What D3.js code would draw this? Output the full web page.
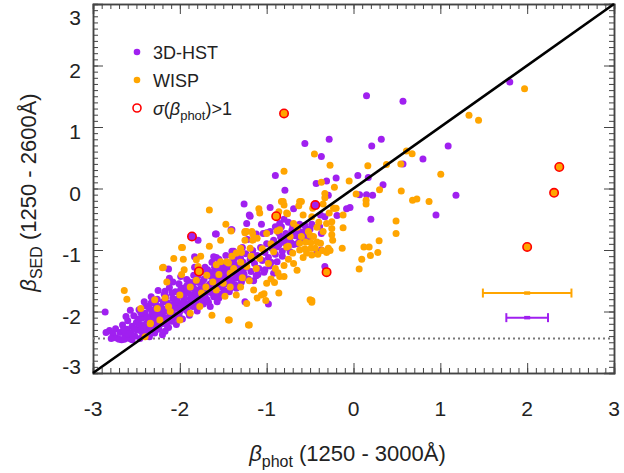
<!DOCTYPE html>
<html>
<head>
<meta charset="utf-8">
<script src="https://cdn.jsdelivr.net/npm/d3@7"></script>
<style>
  body { margin: 0; background: #fff; }
  svg text { font-family: "Liberation Sans", Arial, sans-serif; fill: #222; }
  .axis path, .axis line { stroke: #444; }
</style>
</head>
<body>
<div id="chart"></div>
<script>
// Data (beta_phot, beta_SED)
const hst = [
  [-2.86,-2.01],[0.15,1.51],[0.57,1.42],[1.80,1.73],[-0.56,0.73],[-0.28,0.80],[0.21,0.69],[0.32,0.80],[1.09,0.69],[0.80,0.48],
  [-0.37,0.52],[-0.90,0.21],[-0.79,-0.03],[-0.43,0.08],[-0.31,0.12],[-0.20,0.17],[0.05,0.21],[0.17,0.18],[0.34,0.06],[0.57,0.40],
  [0.07,-0.10],[0.15,-0.10],[0.22,-0.11],[1.18,-0.11],[0.95,-0.43],[0.20,-0.50],[-0.08,-0.33],[-0.04,-0.31],[-0.19,-0.44],[-0.29,-0.11],
  [-1.26,-0.25],[-1.20,-0.43],[-1.06,-0.58],[-0.69,-0.33],[-1.58,-0.74],[-1.41,-0.67],[-1.79,-0.84],[-1.58,-1.12],[-1.83,-1.11],[-2.12,-1.46],
  [-0.98,-1.88],[-1.25,-1.84],[-0.33,-1.27],[-0.96,-0.31],[-1.19,-0.45],[-1.23,-0.57],[-1.40,-0.67],[-1.04,-0.73],[-1.00,-0.72],[-0.96,-0.70],
  [-0.85,-0.57],[-0.83,-0.62],[-0.38,-0.43],[-0.33,-0.46],[-0.48,-0.58],[-0.39,-0.62],[-0.37,-0.73],[-0.42,-1.03],[-0.37,-1.00],[-0.61,-0.84],
  [-0.65,-0.90],[-0.73,-1.03],[-1.40,-1.02],[-1.59,-0.74],[-1.28,-0.96],[-1.22,-0.83],[-1.12,-0.74],[-1.61,-1.11],[-2.13,-1.31],[-1.83,-1.28],
  [-2.17,-1.67],[-0.80,-0.50],[-0.75,-0.55],[-0.70,-0.62],[-0.62,-0.58],[-0.66,-0.70],[-0.58,-0.75],[-0.90,-0.62],[-0.86,-0.72],[-0.78,-0.80],
  [-0.72,-0.88],[-0.55,-0.68],[-0.52,-0.86],[-0.88,-0.95],[-0.82,-1.10],[-0.95,-1.20],[-1.02,-1.32],[-0.92,-1.38],[-1.10,-1.40],[-1.15,-1.50],
  [-2.81,-2.31],[-2.77,-2.37],[-2.74,-2.28],[-2.73,-2.43],[-2.69,-2.34],[-2.67,-2.46],[-2.66,-2.22],[-2.63,-2.39],[-2.61,-2.29],[-2.60,-2.15],
  [-2.58,-2.44],[-2.56,-2.34],[-2.55,-2.24],[-2.53,-2.07],[-2.52,-2.40],[-2.50,-2.18],[-2.49,-2.30],[-2.47,-1.97],[-2.46,-2.44],[-2.44,-2.11],
  [-2.43,-2.25],[-2.42,-2.36],[-2.40,-2.03],[-2.39,-1.91],[-2.38,-2.19],[-2.37,-2.30],[-2.35,-2.41],[-2.34,-2.09],[-2.33,-1.86],[-2.31,-2.24],
  [-2.30,-1.98],[-2.29,-2.35],[-2.27,-2.14],[-2.26,-1.80],[-2.25,-2.05],[-2.24,-2.29],[-2.22,-1.92],[-2.21,-2.20],[-2.20,-2.38],[-2.18,-1.72],
  [-2.17,-2.00],[-2.16,-2.11],[-2.14,-1.86],[-2.13,-2.26],[-2.12,-1.61],[-2.10,-1.95],[-2.09,-2.16],[-2.08,-1.79],[-2.06,-2.06],[-2.05,-1.68],
  [-2.04,-2.21],[-2.02,-1.89],[-2.01,-1.55],[-2.00,-2.00],[-1.98,-1.74],[-1.97,-2.12],[-1.96,-1.62],[-1.94,-1.86],[-1.93,-1.97],[-1.92,-1.48],
  [-1.90,-1.69],[-1.89,-2.06],[-1.88,-1.79],[-1.86,-1.58],[-1.85,-1.92],[-1.84,-1.41],[-1.82,-1.66],[-1.81,-1.84],[-1.80,-1.99],[-1.78,-1.53],
  [-1.77,-1.75],[-1.76,-1.36],[-1.74,-1.62],[-1.73,-1.88],[-1.72,-1.47],[-1.70,-1.70],[-1.69,-1.80],[-1.68,-1.32],[-1.66,-1.56],[-1.65,-1.92],
  [-1.64,-1.43],[-1.62,-1.65],[-1.61,-1.76],[-1.60,-1.28],[-1.58,-1.51],[-1.57,-1.84],[-1.56,-1.38],[-1.54,-1.60],[-1.53,-1.72],[-1.52,-1.24],
  [-1.50,-1.46],[-1.49,-1.66],[-1.48,-1.33],[-1.46,-1.55],[-1.45,-1.20],[-1.44,-1.42],[-1.42,-1.62],[-1.41,-1.29],[-1.40,-1.50],[-1.38,-1.16],
  [-1.37,-1.37],[-1.36,-1.57],[-1.34,-1.25],[-1.33,-1.45],[-1.32,-1.10],[-1.30,-1.33],[-1.29,-1.52],[-1.27,-1.20],[-1.26,-1.40],[-1.24,-1.06],
  [-1.23,-1.28],[-1.21,-1.47],[-1.19,-1.15],[-1.18,-1.35],[-1.16,-1.01],[-1.14,-1.22],[-1.12,-1.42],[-1.11,-1.09],[-1.09,-1.30],[-1.07,-0.96],
  [-1.05,-1.17],[-1.03,-1.36],[-1.02,-1.04],[-1.00,-0.90],[-0.98,-1.12],[-0.96,-1.26],[-0.94,-0.97],[-0.92,-0.84],[-0.90,-1.07],[-0.88,-1.19],
  [-0.86,-0.92],[-0.84,-0.79],[-0.82,-1.02],[-0.80,-0.88],[-0.78,-0.73],[-0.76,-0.96],[-0.74,-0.83],[-0.71,-0.68],[-0.69,-0.91],[-0.67,-0.77],
  [-0.64,-0.64],[-0.62,-0.85],[-0.59,-0.71],[-0.56,-0.60],[-0.53,-0.80],[-0.50,-0.66],
  [-2.36,-2.14],[-2.32,-2.02],[-2.28,-2.25],[-2.23,-2.12],[-2.19,-1.96],[-2.15,-2.22],[-2.11,-2.04],[-2.07,-1.88],[-2.03,-2.10],[-1.99,-1.92],
  [-1.95,-1.78],[-1.91,-2.00],[-1.87,-1.86],[-1.83,-1.72],[-1.79,-1.91],[-1.75,-1.80],[-1.71,-1.60],[-1.67,-1.85],[-1.63,-1.70],[-1.59,-1.56],
  [-1.55,-1.78],[-1.51,-1.58],[-1.47,-1.44],[-1.43,-1.68],[-1.39,-1.40],[-1.35,-1.62],[-1.31,-1.42],[-1.28,-1.28],[-2.41,-1.84],[-2.33,-1.76],
  [-2.25,-1.66],[-2.16,-1.76],[-2.08,-1.52],[-1.99,-1.43],[-1.92,-1.58],[-1.83,-1.52],[-1.71,-1.28],[-1.63,-1.20],[-1.55,-1.15],[-1.47,-1.09],
  [-1.38,-1.02],[-2.57,-1.98],[-2.48,-2.12],[-2.62,-2.08],
  [-2.52,-2.28],[-2.47,-2.20],[-2.44,-2.33],[-2.41,-2.22],[-2.38,-2.10],[-2.35,-2.27],[-2.31,-2.16],[-2.29,-2.06],[-2.27,-1.92],[-2.24,-2.17],
  [-2.21,-2.04],[-2.19,-1.84],[-2.17,-2.32],[-2.14,-1.98],[-2.11,-2.12],[-2.09,-1.70],[-2.06,-1.95],[-2.03,-1.80],[-2.01,-2.06],[-1.99,-1.64],
  [-1.97,-1.86],[-1.94,-1.70],[-1.91,-1.90],[-1.89,-1.52],[-1.87,-1.74],[-1.84,-1.62],[-1.81,-1.78],[-1.79,-1.42],[-1.77,-1.64],[-1.74,-1.52],
  [-1.72,-1.72],[-1.69,-1.38],[-1.67,-1.62],[-1.64,-1.54],[-1.62,-1.36],[-1.59,-1.68],[-1.57,-1.44],[-1.54,-1.30],[-1.52,-1.52],[-1.49,-1.38],
  [-1.46,-1.26],[-1.44,-1.50],[-1.41,-1.36],[-1.38,-1.22],[-1.36,-1.46],[-1.33,-1.32],[-1.30,-1.14],[-1.27,-1.36],[-2.70,-2.45],[-2.64,-2.45],
  [-2.55,-2.46],[-2.85,-2.34],[-2.79,-2.44],[-2.60,-2.36],[-2.65,-2.30],[-2.35,-1.95],[-2.45,-2.02],[-2.28,-1.88],[-2.00,-1.72],[-1.92,-1.66],
  [-2.22,-2.00]
];

const wisp = [
  [1.97,1.62],[1.33,1.19],[1.44,1.11],[0.61,0.61],[0.675,0.565],[0.38,0.39],[0.545,0.40],[0.165,0.37],[-0.27,0.38],[1.005,0.23],
  [-0.05,0.12],[-0.22,0.02],[0.55,-0.04],[0.03,-0.09],[0.73,-0.17],[0.68,-0.19],[0.145,-0.19],[0.145,-0.25],[0.30,-0.02],[0.87,-0.21],
  [-0.22,-0.32],[-0.12,-0.43],[-0.25,-0.54],[-0.25,-0.65],[-0.12,-0.64],[-0.24,-0.84],[-0.27,-1.01],[-0.13,-0.97],[0.49,-0.53],[0.49,-0.73],
  [0.295,-0.85],[0.12,-0.95],[0.18,-0.95],[0.28,-1.04],[0.195,-1.09],[0.095,-1.15],[0.065,-1.31],
  [-0.45,0.56],[-0.80,0.28],[-0.37,0.10],[-0.33,-0.08],[-0.33,-0.15],[-0.62,-0.21],[-0.35,-0.25],[-0.47,-0.32],[-0.23,-0.32],[-0.20,-0.32],
  [-0.28,-0.40],[-0.36,-1.01],[-0.41,-1.07],[-0.48,-1.08],[-0.48,-1.82],[-0.48,-1.85],[-1.20,-2.22],[-1.43,-2.14],[-1.66,-0.35],[-0.60,-0.21],
  [-0.63,-0.28],[-0.81,-0.21],[-0.86,-0.38],[-1.47,-0.58],[-1.09,-0.33],[-1.17,-0.70],[-1.97,-0.96],[-2.07,-1.14],[-2.19,-1.28],[-2.64,-1.66],
  [-2.61,-1.80],[-1.95,-1.32],[-1.79,-1.27],[-2.45,-1.95],[-2.34,-2.20],[-2.26,-1.95],
  [-1.11,-1.78],[-1.01,-1.82],[-1.03,-1.71],[-0.86,-1.70],[-0.91,-1.53],[-0.95,-1.47],[-0.80,-1.43],[-0.87,-1.37],[-0.56,-0.98],[-0.54,-1.05],
  [-0.49,-0.88],[-0.83,-0.21],[-0.80,-0.27],[-0.76,-0.41],[-1.08,-0.40],[-1.25,-0.70],[-1.16,-0.74],[-1.16,-0.84],[-0.88,-0.69],[-0.69,-0.57],
  [-0.65,-0.63],[-0.58,-0.43],[-0.48,-0.46],[-0.31,-0.57],[-0.42,-0.63],[-0.50,-0.76],[-0.52,-0.70],[-0.60,-0.78],[-0.55,-0.87],[-0.42,-0.87],
  [-0.38,-0.89],[-0.44,-0.97],[-0.49,-0.97],[-0.29,-0.97],[-0.31,-1.04],[-0.73,-0.78],[-0.75,-0.94],[-1.30,-0.97],[-1.29,-1.04],[-1.25,-0.84],
  [-1.41,-0.69],[-1.98,-0.96],[-1.66,-0.94],[-1.53,-0.84],[-1.19,-0.97],[-1.25,-0.72],[-1.96,-1.15],[-1.81,-1.16],[-1.76,-1.10],[-1.40,-1.10],
  [-1.53,-1.19],[-1.44,-1.21],[-2.20,-1.29],[-1.98,-1.40],[-2.15,-1.52],[-2.17,-1.78],
  [-1.50,-1.54],[-1.42,-1.60],[-1.35,-1.73],[-1.15,-1.65],[-1.06,-1.73],[-1.00,-1.54],[-0.85,-1.43],[-0.69,-1.22],[-0.65,-1.33],[-0.50,-1.81],
  [-1.23,-1.87],[-1.44,-2.14],[-1.21,-2.22],[-1.63,-2.06],[-1.77,-1.92],[-1.88,-2.03],[-2.00,-2.14],[-2.11,-2.00],[-2.23,-2.14],[-2.34,-2.19],
  [-2.40,-2.41],[-2.29,-1.81],
  [-0.85,-0.67],[-0.77,-0.40],[-1.00,-0.73],[-1.11,-0.81],[-1.23,-0.70],[-1.35,-1.05],[-1.46,-1.19],[-1.58,-1.24],[-1.69,-1.41],[-1.81,-1.49],
  [-1.88,-1.60],[-2.00,-1.73],[-2.13,-1.92],[-1.42,-1.38],[-1.23,-1.27],[-1.08,-1.14],[-0.92,-1.03],[-0.77,-0.95],[-0.62,-0.89],[-0.46,-0.78],
  [-1.30,-1.20],[-1.18,-1.10],[-1.05,-0.98],[-0.95,-0.90],[-1.38,-1.30],[-1.55,-1.40],[-1.62,-1.52],[-1.28,-1.45],[-1.12,-1.30],[-0.98,-1.22],
  [-0.75,-1.15],[-0.70,-1.05],[-0.62,-1.00],[-0.58,-1.12],[-1.70,-1.60],[-1.75,-1.70],[-1.58,-1.65],[-1.48,-1.75],[-1.30,-1.60],[-1.20,-1.50],
  [-0.90,-1.30],[-0.80,-1.25],[-0.35,-0.70],[-0.25,-0.75],[-0.40,-0.55]
];

// sigma(beta_phot) > 1 objects, with the sample each belongs to
const bigErr = [[-0.80,1.22],[-1.86,-0.78],[-1.78,-1.35],[-0.89,-0.45],[-0.44,-0.27],[-0.31,-1.36],[2.00,-0.95],[2.31,-0.07],[2.37,0.35]];
const bigErrSample = ["WISP","3D-HST","WISP","WISP","3D-HST","WISP","WISP","WISP","WISP"];

// typical error bars
const errSample = ["WISP", "3D-HST"];
const errCenter = [2.0, 2.0];
const errY = [-1.70, -2.10];
const errHalf = [0.51, 0.24];

const betaMin = -2.44;
const majorTicks = [-3, -2, -1, 0, 1, 2, 3];

const colors = { "3D-HST": "#a020f0", "WISP": "#ffa500" };

// Dimensions
const margin = { top: 4, right: 10, bottom: 100, left: 93 },
    width = 614 - margin.left,
    height = 373 - margin.top;

const svg = d3.select("#chart")
    .append("svg")
    .attr("width", 624)
    .attr("height", 473)
    .append("g")
    .attr("transform", `translate(${margin.left},${margin.top})`);

const x = d3.scaleLinear().domain([-3, 3]).range([0, width]);
const y = d3.scaleLinear().domain([-3, 3]).range([height, 0]);

const minor = d3.range(-30, 31).map(d => d / 10);

// ticks on all four sides, pointing inward
function tickAxes(vals, len) {
    svg.append("g").attr("class", "axis").attr("transform", `translate(0,${height})`)
        .call(d3.axisBottom(x).tickValues(vals).tickSize(-len).tickFormat(""));
    svg.append("g").attr("class", "axis")
        .call(d3.axisTop(x).tickValues(vals).tickSize(-len).tickFormat(""));
    svg.append("g").attr("class", "axis")
        .call(d3.axisLeft(y).tickValues(vals).tickSize(-len).tickFormat(""));
    svg.append("g").attr("class", "axis").attr("transform", `translate(${width},0)`)
        .call(d3.axisRight(y).tickValues(vals).tickSize(-len).tickFormat(""));
}
tickAxes(minor, 5);
tickAxes(majorTicks, 10);
svg.selectAll(".axis path").attr("stroke-width", 1.5);

// tick labels
svg.selectAll(".xlab").data(majorTicks).enter().append("text")
    .attr("x", d => x(d)).attr("y", height + 43)
    .attr("text-anchor", "middle").style("font-size", "21px")
    .text(d => d);

svg.selectAll(".ylab").data(majorTicks).enter().append("text")
    .attr("x", -12)
    .attr("y", d => d === 3 ? y(d) + 21 : d === -3 ? y(d) + 1 : y(d) + 12)
    .attr("text-anchor", "end").style("font-size", "21px")
    .text(d => d);

// dotted beta = -2.44 line
svg.append("line")
    .attr("x1", 0).attr("x2", width)
    .attr("y1", y(betaMin)).attr("y2", y(betaMin))
    .attr("stroke", "#777").attr("stroke-width", 2)
    .attr("stroke-dasharray", "2,3");

// points
svg.append("g").selectAll("circle").data(hst).enter().append("circle")
    .attr("cx", d => x(d[0])).attr("cy", d => y(d[1])).attr("r", 3.5)
    .attr("fill", colors["3D-HST"]);

svg.append("g").selectAll("circle").data(wisp).enter().append("circle")
    .attr("cx", d => x(d[0])).attr("cy", d => y(d[1])).attr("r", 3.5)
    .attr("fill", colors["WISP"]);

svg.append("g").selectAll("circle").data(bigErr).enter().append("circle")
    .attr("cx", d => x(d[0])).attr("cy", d => y(d[1])).attr("r", 4.2)
    .attr("fill", (d, i) => colors[bigErrSample[i]])
    .attr("stroke", "#ff0000").attr("stroke-width", 1.6);

// one-to-one line
svg.append("line")
    .attr("x1", x(-3)).attr("y1", y(-3)).attr("x2", x(3)).attr("y2", y(3))
    .attr("stroke", "#000").attr("stroke-width", 2.6);

// error bars
errSample.forEach((s, i) => {
    const g = svg.append("g").attr("stroke", colors[s]).attr("stroke-width", 2);
    const yy = y(errY[i]);
    g.append("line").attr("x1", x(errCenter[i] - errHalf[i])).attr("x2", x(errCenter[i] + errHalf[i]))
        .attr("y1", yy).attr("y2", yy);
    [errCenter[i] - errHalf[i], errCenter[i] + errHalf[i]].forEach(e => {
        g.append("line").attr("x1", x(e)).attr("x2", x(e)).attr("y1", yy - 4.5).attr("y2", yy + 4.5);
    });
    g.append("line").attr("x1", x(errCenter[i]) - 3).attr("x2", x(errCenter[i]) + 3)
        .attr("y1", yy).attr("y2", yy).attr("stroke-width", 3.5);
});

// legend
const legend = svg.append("g").attr("transform", "translate(44,48)");
legend.append("circle").attr("cx", 0).attr("cy", 0).attr("r", 3.3).attr("fill", colors["3D-HST"]);
legend.append("text").attr("x", 16).attr("y", 7).style("font-size", "18px").text("3D-HST");
legend.append("circle").attr("cx", 0).attr("cy", 28).attr("r", 3.3).attr("fill", colors["WISP"]);
legend.append("text").attr("x", 16).attr("y", 35).style("font-size", "18px").text("WISP");
legend.append("circle").attr("cx", 0).attr("cy", 56).attr("r", 4).attr("fill", "none")
    .attr("stroke", "#ff0000").attr("stroke-width", 1.6);
const lt = legend.append("text").attr("x", 16).attr("y", 63).style("font-size", "18px");
lt.append("tspan").style("font-style", "italic").text("σ");
lt.append("tspan").text("(");
lt.append("tspan").style("font-style", "italic").text("β");
lt.append("tspan").attr("dy", 5).style("font-size", "13px").text("phot");
lt.append("tspan").attr("dy", -5).text(")>1");

// axis titles
const xt = svg.append("text").attr("x", width / 2 - 6).attr("y", height + 88)
    .attr("text-anchor", "middle").style("font-size", "22px");
xt.append("tspan").style("font-style", "italic").text("β");
xt.append("tspan").attr("dy", 6).style("font-size", "16px").text("phot");
xt.append("tspan").attr("dy", -6).text(" (1250 - 3000Å)");

const yt = svg.append("text")
    .attr("transform", `translate(-57,${height / 2 + 4}) rotate(-90)`)
    .attr("text-anchor", "middle").style("font-size", "22px");
yt.append("tspan").style("font-style", "italic").text("β");
yt.append("tspan").attr("dy", 6).style("font-size", "16px").text("SED");
yt.append("tspan").attr("dy", -6).text(" (1250 - 2600Å)");
</script>
</body>
</html>
